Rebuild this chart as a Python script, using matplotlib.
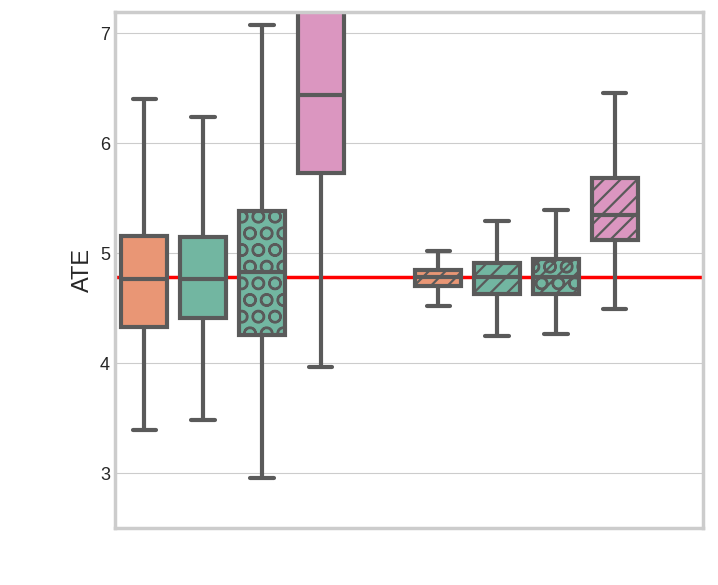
import numpy as np
import matplotlib.pyplot as plt
import seaborn as sns

sns.set_style("whitegrid")
plt.rcParams['font.family'] = ['Liberation Sans', 'DejaVu Sans']
plt.rcParams['hatch.linewidth'] = 1.6

# box statistics, 4 boxes per group, 2 groups
whislo = [3.39, 3.48, 2.96, 3.97, 4.52, 4.25, 4.27, 4.49]
q1 = [4.33, 4.41, 4.26, 5.73, 4.70, 4.63, 4.63, 5.12]
med = [4.77, 4.77, 4.83, 6.44, 4.78, 4.78, 4.78, 5.35]
q3 = [5.16, 5.15, 5.38, 7.25, 4.85, 4.91, 4.95, 5.68]
whishi = [6.40, 6.24, 7.07, 8.50, 5.02, 5.29, 5.39, 6.46]
hatches = ['', '', 'O', '', '//', '//', '//O', '//']
color_idx = [1, 0, 0, 3, 1, 0, 0, 3]
true_ate = 4.78

pal = sns.color_palette("Set2")
colors = [sns.desaturate(pal[i], 0.75) for i in color_idx]

group_pos = [0, 1]
offsets = [-0.3, -0.1, 0.1, 0.3]
positions = [g + o for g in group_pos for o in offsets]

stats = []
for i in range(len(med)):
    stats.append(dict(whislo=whislo[i], q1=q1[i], med=med[i], q3=q3[i], whishi=whishi[i]))

fig = plt.figure(figsize=(7.18, 5.85), dpi=100)
ax = fig.add_axes([0.160, 0.097, 0.819, 0.882])

edge = '#5a5a5a'
lw = 3.0
bp = ax.bxp(stats, positions=positions, widths=0.156, capwidths=0.08,
            patch_artist=True, showfliers=False,
            boxprops=dict(edgecolor=edge, linewidth=lw),
            medianprops=dict(color=edge, linewidth=lw),
            whiskerprops=dict(color=edge, linewidth=lw),
            capprops=dict(color=edge, linewidth=lw, solid_capstyle='round'))
for box, c, h in zip(bp['boxes'], colors, hatches):
    box.set_facecolor(c)
    box.set_hatch(h)

ax.axhline(true_ate, color='red', linewidth=2.5, zorder=1.5)

ax.set_xlim(-0.4, 1.6)
ax.set_ylim(2.5, 7.19)
ax.set_yticks([3, 4, 5, 6, 7])
ax.set_xticks([])
ax.tick_params(axis='y', labelsize=13, length=0)
ax.set_ylabel('ATE', fontsize=17)
for s in ax.spines.values():
    s.set_linewidth(2.5)
    s.set_color('#cccccc')

fig.savefig('out.png', dpi=100)
